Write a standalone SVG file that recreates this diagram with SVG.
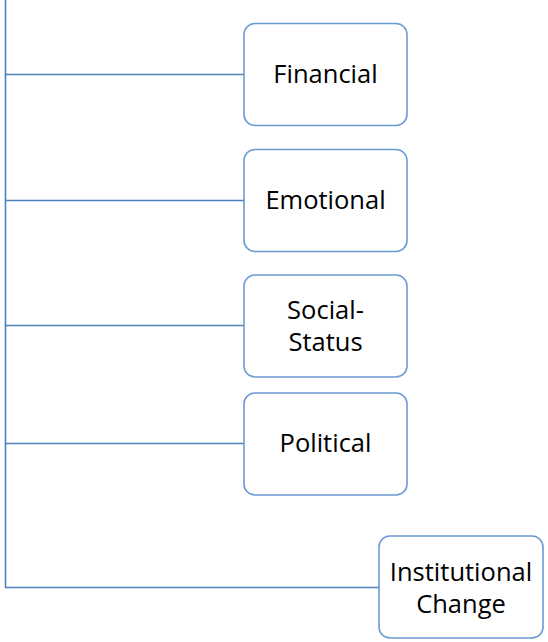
<svg xmlns="http://www.w3.org/2000/svg" width="548" height="642" viewBox="0 0 548 642">
<style>
.box{fill:#ffffff;stroke:#6b9bd2;stroke-width:1.6}
.conn{fill:none;stroke:#4f81bd;stroke-width:1.6}
.lbl{font-family:"Open Sans","Liberation Sans",sans-serif;font-size:25.5px;fill:#000000;text-anchor:middle;dominant-baseline:central}
</style>
<rect width="548" height="642" fill="#ffffff"/>
<g id="connectors">
<path class="conn" d="M5.5,0 V587.5 H379"/>
<path class="conn" d="M5.5,74.5 H244"/>
<path class="conn" d="M5.5,200.5 H244"/>
<path class="conn" d="M5.5,325.5 H244"/>
<path class="conn" d="M5.5,443.5 H244"/>
</g>
<g id="financial">
<rect class="box" x="244" y="23.5" width="163" height="102" rx="11"/>
<text class="lbl" x="325.5" y="73">Financial</text>
</g>
<g id="emotional">
<rect class="box" x="244" y="149.5" width="163" height="102" rx="11"/>
<text class="lbl" x="325.5" y="199">Emotional</text>
</g>
<g id="social-status">
<rect class="box" x="244" y="275" width="163" height="102" rx="11"/>
<text class="lbl" x="325.5" y="309">Social-</text>
<text class="lbl" x="325.5" y="341">Status</text>
</g>
<g id="political">
<rect class="box" x="244" y="393" width="163" height="102" rx="11"/>
<text class="lbl" x="325.5" y="442">Political</text>
</g>
<g id="institutional-change">
<rect class="box" x="379" y="536" width="164" height="102" rx="11"/>
<text class="lbl" x="461" y="571">Institutional</text>
<text class="lbl" x="461" y="603">Change</text>
</g>
</svg>
